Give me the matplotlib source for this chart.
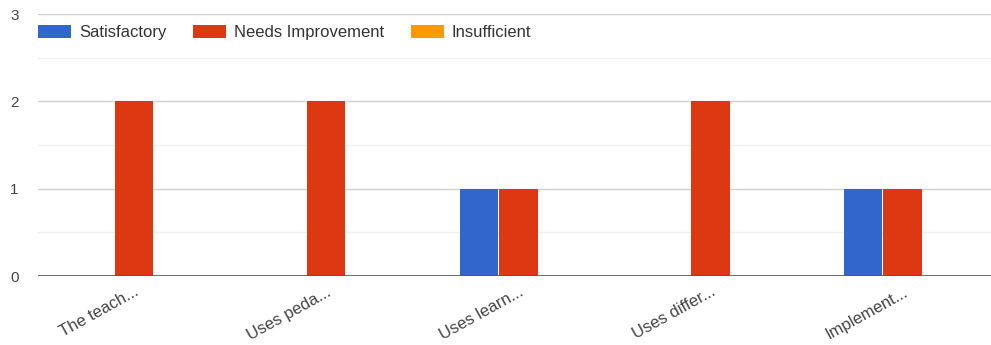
import matplotlib.pyplot as plt
import numpy as np

categories = ["The teach...", "Uses peda...", "Uses learn...", "Uses differ...", "Implement..."]
series_names = ["Satisfactory", "Needs Improvement", "Insufficient"]
satisfactory = [0, 0, 1, 0, 1]
needs_improvement = [2, 2, 1, 2, 1]
insufficient = [0, 0, 0, 0, 0]
colors = ["#3366cc", "#dc3912", "#ff9900"]

plt.rcParams["font.family"] = ["Liberation Sans", "DejaVu Sans"]

fig = plt.figure(figsize=(9.91, 3.45), dpi=100)
ax = fig.add_axes([38 / 991, 1 - 276 / 345, 1 - 38 / 991, (276 - 14) / 345])

x = np.arange(len(categories))
bw = 0.2
for i, (name, vals) in enumerate(zip(series_names, [satisfactory, needs_improvement, insufficient])):
    ax.bar(x + (i - 1) * (bw + 0.005), vals, bw, color=colors[i], label=name, zorder=3)

ax.set_xlim(-0.5, 4.46)
ax.set_ylim(0, 3)
ax.set_yticks([0, 1, 2, 3])
ax.set_yticks([0.5, 1.5, 2.5], minor=True)
ax.grid(axis="y", which="major", color="#d0d0d0", linewidth=1, zorder=0)
ax.grid(axis="y", which="minor", color="#f0f0f0", linewidth=1, zorder=0)
ax.axhline(0, color="#555555", linewidth=1.2, zorder=4)

for s in ax.spines.values():
    s.set_visible(False)
ax.tick_params(axis="both", which="both", length=0)
ax.tick_params(axis="y", labelsize=11, labelcolor="#444444", pad=14)
ax.set_xticks(x)
ax.set_xticklabels(categories, rotation=29, ha="right", rotation_mode="anchor",
                   fontsize=12, color="#444444")
ax.tick_params(axis="x", pad=6)

leg = ax.legend(loc="upper left", bbox_to_anchor=(0.0, 0.957), ncol=3, frameon=False,
                fontsize=12, handlelength=2.0, handleheight=0.75, columnspacing=1.6,
                handletextpad=0.45, borderaxespad=0, borderpad=0)
for t in leg.get_texts():
    t.set_color("#333333")

fig.savefig("out.png", dpi=100)
